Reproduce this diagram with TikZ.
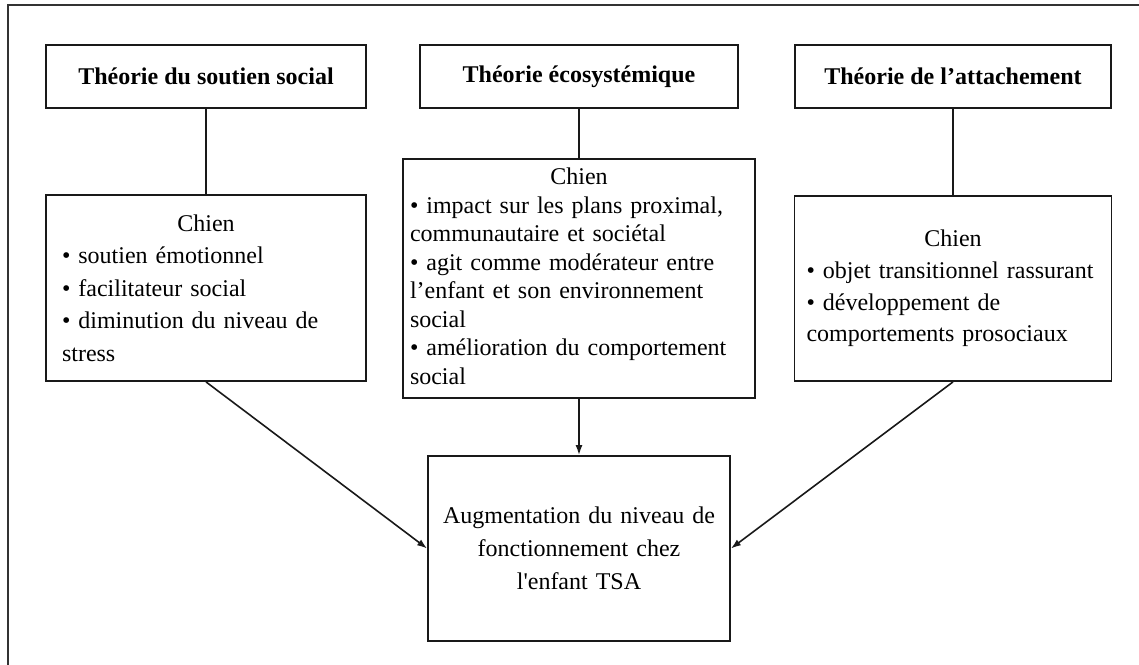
\documentclass[tikz,border=0pt]{standalone}
\usepackage{fontspec}
\setmainfont{Liberation Serif}
\usetikzlibrary{arrows.meta}
\begin{document}
\begin{tikzpicture}[x=1pt,y=-1pt,
  box/.style={draw=black!90, line width=1.8pt, rectangle, inner sep=0pt, anchor=center},
  title/.style={box, font=\bfseries\fontsize{24}{28}\selectfont},
  link/.style={draw=black!90, line width=1.6pt},
  flow/.style={link, -{Latex[length=10pt,width=7pt]}}]
\useasboundingbox (0,0) rectangle (1139,664);
\clip (0,0) rectangle (1139,664);

% outer frame
\draw[line width=2pt, black!80] (7.5,690) -- (7.5,5) -- (1160,5);

% theories
\node[title, minimum width=320pt, minimum height=63pt] (T1) at (206,76.5) {Théorie du soutien social};
\node[title, minimum width=318pt, minimum height=63pt] (T2) at (579,76.5) {Théorie écosystémique};
\node[title, minimum width=316pt, minimum height=63pt] (T3) at (953,76.5) {Théorie de l’attachement};

% roles of the dog
\node[box, inner xsep=16pt, text width=288pt, minimum height=186pt,
      font=\fontsize{24}{32.5}\selectfont] (L) at (206,288)
  {\centering Chien\par\raggedright
   • soutien émotionnel\\
   • facilitateur social\\
   • diminution du niveau de\\
   stress};

\node[box, inner xsep=7pt, text width=338pt, minimum height=239pt,
      font=\fontsize{24}{28.5}\selectfont] (M) at (579,278.5)
  {\centering Chien\par\raggedright
   • impact sur les plans proximal,\\
   communautaire et sociétal\\
   • agit comme modérateur entre\\
   l’enfant et son environnement\\
   social\\
   • amélioration du comportement\\
   social\vphantom{p}};

\node[box, inner xsep=12pt, text width=293pt, minimum height=185pt,
      font=\fontsize{24}{31.7}\selectfont] (R) at (953,288.5)
  {\centering Chien\par\raggedright
   • objet transitionnel rassurant\\
   • développement de\\
   comportements prosociaux};

% outcome
\node[box, inner xsep=6pt, text width=290pt, minimum height=185pt, align=center,
      font=\fontsize{24}{33}\selectfont] (B) at (579,548.5)
  {Augmentation du niveau de\\
   fonctionnement chez\\
   l\textquotesingle enfant TSA};

% connectors
\draw[link] (T1.south) -- (L.north);
\draw[link] (T2.south) -- (M.north);
\draw[link] (T3.south) -- (R.north);
\draw[flow] (M.south) -- (B.north);
\draw[flow] (L.south) -- (B.west);
\draw[flow] (R.south) -- (B.east);
\end{tikzpicture}
\end{document}
